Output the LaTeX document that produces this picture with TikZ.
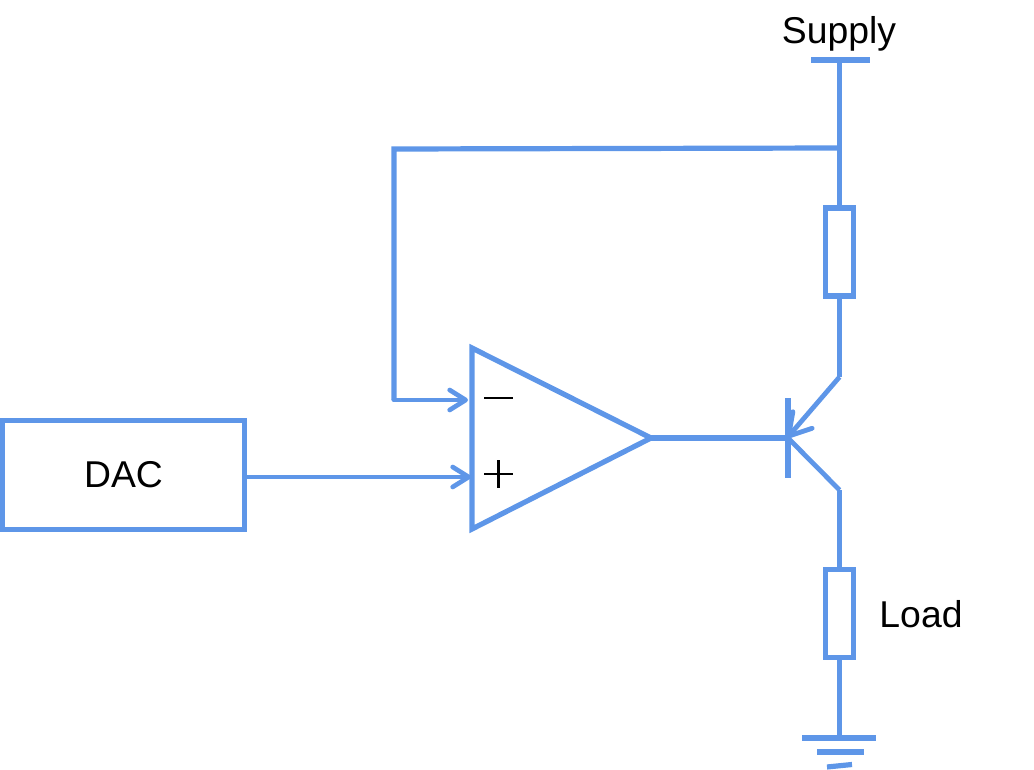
\documentclass[tikz,border=0pt]{standalone}
\usepackage{fontspec}
\setmainfont{Liberation Sans}
\usetikzlibrary{arrows.meta}
\definecolor{wireblue}{HTML}{5E96E8}
\tikzset{
  wire/.style={draw=wireblue,line width=3.9pt,line cap=butt,line join=miter},
  thin wire/.style={draw=wireblue,line width=3.6pt},
  barb/.style={-{Straight Barb[length=12pt,width=15pt,line width=3.5pt,round]}},
  bigbarb/.style={-{Straight Barb[length=16pt,width=19pt,line width=3.6pt,round]}},
  sign/.style={draw=black,line width=1.6pt},
  block/.style={draw=wireblue,line width=3.9pt,fill=white,inner sep=0pt,minimum width=181pt,minimum height=82pt,font=\fontsize{28}{32}\selectfont},
  res/.style={draw=wireblue,line width=3.9pt,fill=white,inner sep=0pt,minimum width=21pt,minimum height=66pt},
  label/.style={inner sep=0pt,font=\fontsize{28}{32}\selectfont}
}
\begin{document}
\begin{tikzpicture}[x=0.75pt,y=-0.75pt]
\useasboundingbox (0,0) rectangle (1034,770);
% named points
\coordinate (sup) at (839.5,60);
\coordinate (supL) at (811,60);
\coordinate (supR) at (870,60);
\coordinate (tap) at (839.5,148);
\coordinate (corner) at (394,149);
\coordinate (fbdown) at (394,400);
\coordinate (inm) at (468,400);
\coordinate (inp) at (471,477);
\coordinate (ta) at (472,348);
\coordinate (tb) at (472,529);
\coordinate (tc) at (651,438);
\coordinate (base) at (788,438);
\coordinate (baseT) at (788,398);
\coordinate (baseB) at (788,478);
\coordinate (em) at (839.5,377);
\coordinate (emtip) at (787,438);
\coordinate (col) at (839.5,490);
\coordinate (gnd) at (839.5,738);
\coordinate (g1L) at (802,738);
\coordinate (g1R) at (876,738);
\coordinate (g2L) at (817,752);
\coordinate (g2R) at (864,752);
\coordinate (g3L) at (827,767);
\coordinate (g3R) at (852,764.5);
% nodes
\node[block] (dac) at (123.5,475) {\raisebox{-1pt}{DAC}};
\node[res] (r1) at (839.5,252) {};
\node[res] (r2) at (839.5,613.5) {};
\node[label] (supply) at (839,34) {Supply};
\node[label] (load) at (921,614) {Load};
% supply
\draw[wire] (supL) -- (supR);
\draw[wire] (sup) -- (r1.north);
\draw[wire] (tap) -- (corner) -- (fbdown);
\draw[thin wire,barb,line cap=round] (fbdown) -- (inm);
% opamp
\draw[wire,line join=miter] (ta) -- (tb) -- (tc) -- cycle;
\draw[thin wire,barb] (dac.east |- inp) -- (inp);
\draw[wire] (tc) -- (base);
% signs
\draw[sign] (484,398) -- (513,398);
\draw[sign] (484,474) -- (513,474);
\draw[sign] (498.5,460) -- (498.5,488);
% transistor
\draw[wire] (baseT) -- (baseB);
\draw[wire] (r1.south) -- (em);
\draw[thin wire,bigbarb] (em) -- (emtip);
\draw[thin wire] (base) -- (col);
\draw[wire] (col) -- (r2.north);
\draw[wire] (r2.south) -- (gnd);
% ground
\draw[wire] (g1L) -- (g1R);
\draw[wire] (g2L) -- (g2R);
\draw[wire] (g3L) -- (g3R);
\end{tikzpicture}
\end{document}
